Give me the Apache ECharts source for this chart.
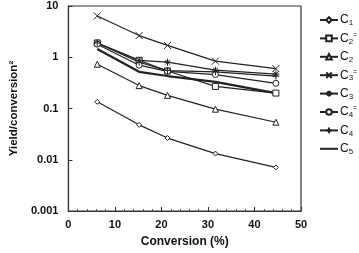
<!DOCTYPE html>
<html lang="en">
<head>
    <meta charset="UTF-8">
    <title>Yield / conversion</title>
    <script src="https://cdn.jsdelivr.net/npm/echarts/dist/echarts.min.js"></script>
    <style>
        html, body { margin: 0; padding: 0; background: #fff; }
        #chart { width: 359px; height: 253px; }
    </style>
</head>
<body>
    <div id="chart"></div>
    <script>
        // conversion (%) at each sampling point
        var conversion = [6.2, 15.2, 21.3, 31.6, 44.6];

        // yield / conversion^2 for each product
        var c1 = [0.135, 0.048, 0.0265, 0.0132, 0.0071];
        var c2e = [1.9, 0.87, 0.54, 0.27, 0.2];
        var c2 = [0.73, 0.28, 0.18, 0.097, 0.054];
        var c3e = [6.4, 2.65, 1.7, 0.84, 0.6];
        var c3 = [1.9, 0.87, 0.8, 0.56, 0.47];
        var c4e = [1.8, 0.7, 0.53, 0.46, 0.31];
        var c4 = [1.9, 0.8, 0.55, 0.52, 0.43];
        var c5 = [1.45, 0.52, 0.43, 0.33, 0.2];

        var seriesNames = ['C1', 'C2=', 'C2', 'C3=', 'C3', 'C4=', 'C4', 'C5'];
        var seriesData = [c1, c2e, c2, c3e, c3, c4e, c4, c5];
        var yTicks = ['0.001', '0.01', '0.1', '1', '10'];

        var ink = '#222';
        var markers = {
            'C1': { symbol: 'diamond', size: 5 },
            'C2=': { symbol: 'rect', size: 6 },
            'C2': { symbol: 'triangle', size: 6 },
            'C3=': { symbol: 'path://M0,0L10,10M10,0L0,10', size: 7 },
            'C3': { symbol: 'path://M5,0L5,10M0,5L10,5M1.5,1.5L8.5,8.5M8.5,1.5L1.5,8.5', size: 7 },
            'C4=': { symbol: 'circle', size: 6 },
            'C4': { symbol: 'path://M5,0L5,10M0,5L10,5', size: 7 },
            'C5': { symbol: 'none', size: 0 }
        };

        var series = seriesNames.map(function (name, i) {
            var m = markers[name];
            return {
                name: name,
                type: 'line',
                data: seriesData[i].map(function (v, j) { return [conversion[j], v]; }),
                symbol: m.symbol,
                symbolSize: m.size,
                showSymbol: m.symbol !== 'none',
                lineStyle: { color: ink, width: name === 'C5' ? 2.2 : 1.2 },
                itemStyle: { color: '#fff', borderColor: ink, borderWidth: 1 },
                animation: false
            };
        });

        // legend entries; C5 has no marker, only a heavier line
        var legendData = seriesNames.map(function (name) {
            if (name === 'C5') {
                return { name: name, itemStyle: { opacity: 0 } };
            }
            return { name: name };
        });

        var chart = echarts.init(document.getElementById('chart'));

        chart.setOption({
            animation: false,
            grid: {
                left: 61, right: 58, top: 6, bottom: 39,
                show: true, borderColor: '#333', borderWidth: 1.2
            },
            legend: {
                orient: 'vertical',
                left: 314, top: 8,
                itemWidth: 18, itemHeight: 7, itemGap: 4.4,
                data: legendData,
                formatter: function (name) {
                    var num = name.charAt(1);
                    var sup = name.length > 2 ? '{p|=}' : '{p| }';
                    return '{c|C}{s|' + num + '}' + sup;
                },
                textStyle: {
                    padding: [0, 0, 0, -3],
                    rich: {
                        c: { fontFamily: 'Liberation Sans', fontSize: 12, color: '#111', lineHeight: 14, verticalAlign: 'middle' },
                        s: { fontFamily: 'Liberation Sans', fontSize: 8, color: '#111', verticalAlign: 'bottom', lineHeight: 14, padding: [4, 0, 0, 0] },
                        p: { fontFamily: 'Liberation Sans', fontSize: 7, color: '#111', verticalAlign: 'top', lineHeight: 14, padding: [0, 0, 4, 0] }
                    }
                }
            },
            xAxis: {
                type: 'value',
                min: 0, max: 50, interval: 10,
                name: 'Conversion (%)',
                nameLocation: 'middle',
                nameGap: 25,
                nameTextStyle: { fontFamily: 'Liberation Sans', fontWeight: 'bold', fontSize: 12, color: '#111' },
                axisLine: { lineStyle: { color: '#333', width: 1.2 } },
                axisTick: { inside: true, length: 4, lineStyle: { color: '#333' } },
                minorTick: { show: true, splitNumber: 5, length: 2, lineStyle: { color: '#555' } },
                axisLabel: { fontFamily: 'Liberation Sans', fontWeight: 'bold', fontSize: 11, color: '#111', margin: 8 },
                splitLine: { show: false }
            },
            yAxis: {
                type: 'log',
                logBase: 10,
                min: 0.001, max: 10,
                name: 'Yield/conversion\u00b2',
                nameLocation: 'middle',
                nameGap: 45,
                nameTextStyle: { fontFamily: 'Liberation Sans', fontWeight: 'bold', fontSize: 11.5, color: '#111' },
                axisLine: { lineStyle: { color: '#333', width: 1.2 } },
                axisTick: { inside: true, length: 4, lineStyle: { color: '#333' } },
                axisLabel: {
                    fontFamily: 'Liberation Sans', fontWeight: 'bold', fontSize: 11, color: '#111', margin: 10,
                    formatter: function (v) {
                        var k = Math.round(Math.log10(v)) + 3;
                        return yTicks[k] !== undefined ? yTicks[k] : '';
                    }
                },
                splitLine: { show: false }
            },
            series: series
        });
    </script>
</body>
</html>
